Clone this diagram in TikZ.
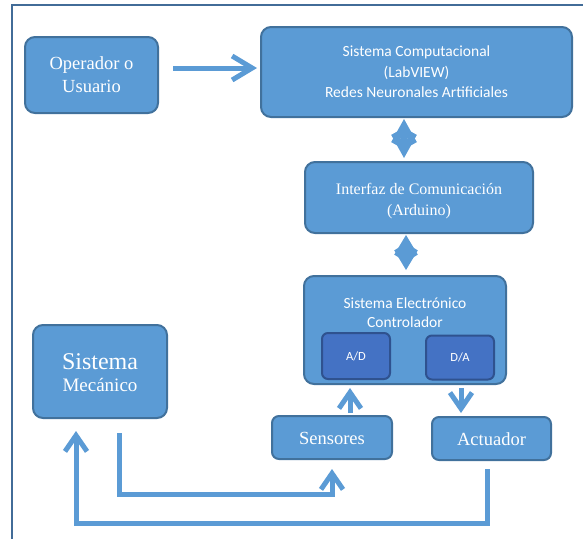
\documentclass[tikz,border=0pt]{standalone}
\usepackage{fontspec}
\setmainfont{Liberation Serif}
\newfontfamily\calfont{Carlito}
\usetikzlibrary{arrows.meta,calc}

\definecolor{boxfill}{RGB}{91,155,213}
\definecolor{boxline}{RGB}{65,113,156}
\definecolor{chipfill}{RGB}{68,114,196}
\definecolor{chipline}{RGB}{47,82,143}
\definecolor{framecol}{RGB}{66,108,152}

\tikzset{
  box/.style={draw=boxline, fill=boxfill, line width=2pt, rounded corners=10pt,
              inner sep=0pt, text=white, align=center},
  boxtext/.style={text=white, align=center, inner sep=0pt},
  chip/.style={draw=chipline, fill=chipfill, line width=2pt, rounded corners=6pt,
               inner sep=0pt, text=white, font=\calfont\fontsize{12.5}{14}\selectfont},
  flow/.style={draw=boxfill, line width=5pt, line cap=butt,
               -{Straight Barb[length=16pt,width=22pt]}},
  bigflow/.style={draw=boxfill, line width=5pt, line cap=butt,
               -{Straight Barb[length=20pt,width=24pt]}},
  link/.style={draw=boxfill, line width=6.5pt,
               {Straight Barb[length=18pt,width=20pt]}-{Straight Barb[length=18pt,width=20pt]}},
  smalllink/.style={draw=boxfill, line width=6.5pt,
               {Straight Barb[length=15pt,width=18pt]}-{Straight Barb[length=15pt,width=18pt]}},
  serifbody/.style={font=\fontsize{18.5}{23}\selectfont},
  calbody/.style={font=\calfont\fontsize{15.5}{20.5}\selectfont},
}

\begin{document}
\begin{tikzpicture}[x=1pt,y=-1pt]
  \useasboundingbox (0,0) rectangle (583,539);

  % outer frame (top and left edges)
  \draw[framecol, line width=2.5pt] (583,5) -- (12,5) -- (12,539);

  % blocks
  \node[box, serifbody, minimum width=133pt, minimum height=76pt] (op) at (91.5,75)
    {Operador o\\Usuario};
  \node[box, calbody, minimum width=311pt, minimum height=90pt] (comp) at (416.5,72)
    {Sistema Computacional\\(LabVIEW)\\Redes Neuronales Artificiales};
  \node[box, minimum width=228pt, minimum height=71pt] (iface) at (419,197.5) {};
  \node[boxtext, font=\fontsize{16}{21}\selectfont] (ifacet) at (419,201)
    {Interfaz de Comunicación\\(Arduino)};
  \node[box, minimum width=202pt, minimum height=108pt] (ctrl) at (405,330) {};
  \node[boxtext, font=\calfont\fontsize{15.5}{19}\selectfont]
    (ctrlt) at (405,312.5) {Sistema Electrónico\\Controlador};
  \node[chip, minimum width=68pt, minimum height=46pt] (ad) at (356,356) {A/D};
  \node[chip, minimum width=68pt, minimum height=44pt] (da) at (460,357.5) {D/A};
  \node[box, minimum width=134pt, minimum height=93pt] (mech) at (100,371.5) {};
  \node[boxtext, font=\fontsize{24}{24}\selectfont] (mecht) at (100,362) {Sistema};
  \node[boxtext, font=\fontsize{19}{19}\selectfont] (mechu) at (100,385) {Mecánico};
  \node[box, serifbody, minimum width=120pt, minimum height=43pt, rounded corners=7pt,
        text height=13pt, text depth=0pt] (sens) at (332,437.5) {Sensores};
  \node[box, serifbody, minimum width=119pt, minimum height=43pt, rounded corners=7pt,
        text height=13pt, text depth=0pt] (act) at (491.5,438.5) {Actuador};

  % connectors
  \draw[bigflow] ($(op.east)+(14,-7)$) -- ($(op.east -| comp.west)+(-3,-7)$);
  \draw[link] ($(comp.south)+(-12.5,1)$) -- ($(comp.south |- iface.north)+(-12.5,-3)$);
  \draw[smalllink] ($(iface.south)+(-13,1)$) -- ($(iface.south |- ctrl.north)+(-13,-5)$);
  \draw[flow] ($(ad.south |- sens.north)+(-6,-2)$) -- ($(ad.south |- ctrl.south)+(-6,3)$);
  \draw[flow] ($(da.south |- ctrl.south)+(1,3)$) -- ($(da.south |- act.north)+(1,-3)$);
  \draw[flow] ($(mech.south)+(19,14)$) -- ($(mech.south)+(19,75)$)
    -| ($(sens.south)+(0,9)$);
  \draw[flow] ($(act.south)+(-4.5,8)$) -- ($(act.south)+(-4.5,62)$)
    -| ($(mech.south)+(-24,12)$);
\end{tikzpicture}
\end{document}
